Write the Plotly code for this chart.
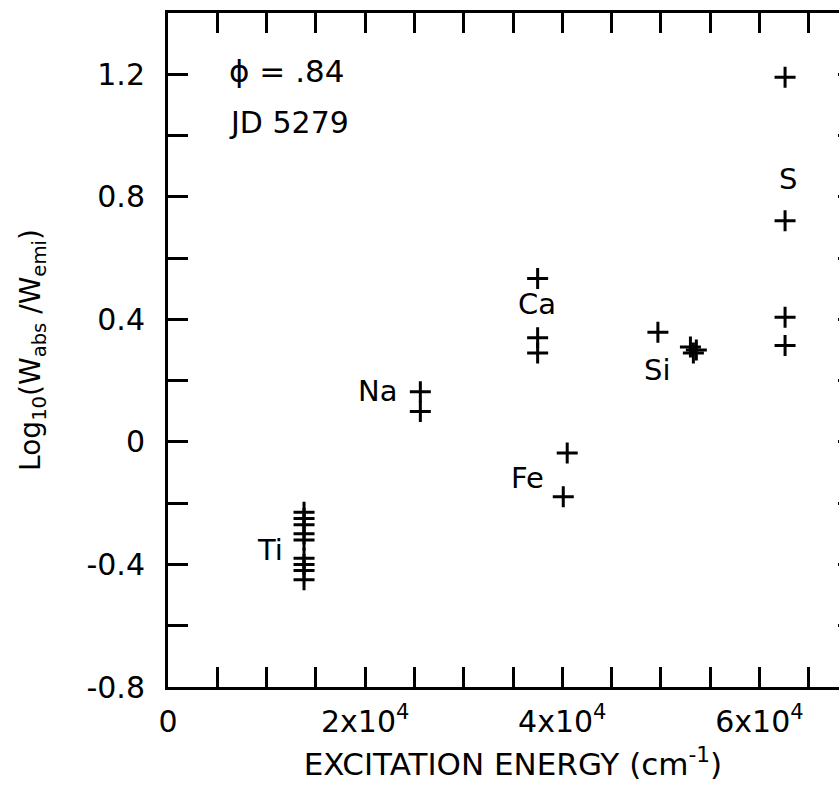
import plotly.graph_objects as go

# ---- data ----
ti_x = [13800, 13800, 13800, 13800, 13800, 13800, 13800, 13800, 13800]
ti_y = [-0.23, -0.25, -0.27, -0.30, -0.32, -0.38, -0.40, -0.42, -0.45]

na_x = [25600, 25600]
na_y = [0.164, 0.099]

ca_x = [37500, 37500, 37500]
ca_y = [0.533, 0.34, 0.29]

fe_x = [40500, 40100]
fe_y = [-0.036, -0.179]

si_x = [49700, 53000, 53600, 53300]
si_y = [0.358, 0.31, 0.30, 0.29]

s_x = [62600, 62600, 62600, 62600]
s_y = [1.19, 0.722, 0.407, 0.315]

element_names = ["Ti", "Na", "Ca", "Fe", "Si", "S"]

x_tickvals = [0, 20000, 40000, 60000]
x_ticktext = ["0", "2x10<sup>4</sup>", "4x10<sup>4</sup>", "6x10<sup>4</sup>"]

y_tickvals = [-0.8, -0.4, 0.0, 0.4, 0.8, 1.2]
y_ticktext = ["-0.8", "-0.4", "0", "0.4", "0.8", "1.2"]

phase_text = "ϕ = .84"
jd_text = "JD 5279"

FONT = "DejaVu Sans"

fig = go.Figure()
series = [(ti_x, ti_y), (na_x, na_y), (ca_x, ca_y), (fe_x, fe_y), (si_x, si_y), (s_x, s_y)]
for name, (xs, ys) in zip(element_names, series):
    fig.add_trace(go.Scatter(
        x=xs, y=ys, mode="markers", name=name,
        marker=dict(symbol="cross-thin", size=15, color="black",
                    line=dict(width=3, color="black")),
    ))

# element labels (text placement)
label_pos = {
    "Ti": (10300, -0.354),
    "Na": (21300, 0.166),
    "Ca": (37400, 0.449),
    "Fe": (36500, -0.117),
    "Si": (49600, 0.234),
    "S": (62900, 0.859),
}
for name in element_names:
    lx, ly = label_pos[name]
    fig.add_annotation(x=lx, y=ly, text=name, showarrow=False,
                       font=dict(family=FONT, size=29, color="black"),
                       xanchor="center", yanchor="middle")

fig.add_annotation(x=6000, y=1.21, text=phase_text, showarrow=False,
                   font=dict(family=FONT, size=31, color="black"),
                   xanchor="left", yanchor="middle")
fig.add_annotation(x=6000, y=1.044, text=jd_text, showarrow=False,
                   font=dict(family=FONT, size=30, color="black"),
                   xanchor="left", yanchor="middle")

axis_common = dict(
    showline=True, linewidth=3, linecolor="black", mirror="ticks",
    ticks="inside", ticklen=20, tickwidth=2.5, tickcolor="black",
    showgrid=False, zeroline=False,
    tickfont=dict(family=FONT, size=30, color="black"),
)

fig.update_xaxes(
    range=[0, 70000], tickmode="array", tickvals=x_tickvals, ticktext=x_ticktext,
    ticklabelstandoff=6,
    minor=dict(ticks="inside", ticklen=20, tickwidth=2.5, tickcolor="black",
               tick0=0, dtick=5000, showgrid=False),
    title=dict(text="EXCITATION ENERGY (cm<sup>-1</sup>)",
               font=dict(family=FONT, size=31, color="black"), standoff=16),
    **axis_common,
)
fig.update_yaxes(
    range=[-0.8, 1.4], tickmode="array", tickvals=y_tickvals, ticktext=y_ticktext,
    ticklabelstandoff=14,
    minor=dict(ticks="inside", ticklen=20, tickwidth=2.5, tickcolor="black",
               tick0=0, dtick=0.2, showgrid=False),
    title=dict(text="Log<sub>10</sub>(W<sub>abs</sub> /W<sub>emi</sub>)",
               font=dict(family=FONT, size=28, color="black"), standoff=38),
    **axis_common,
)

fig.update_layout(
    width=880, height=791,
    margin=dict(l=168, r=22, t=10, b=104),
    paper_bgcolor="white", plot_bgcolor="white",
    showlegend=False,
)

fig.write_html(
    "out.html",
    config={"displayModeBar": False},
    post_script="document.body.style.margin='0px';"
                "document.body.style.overflow='hidden';"
                "document.documentElement.style.overflow='hidden';",
)
